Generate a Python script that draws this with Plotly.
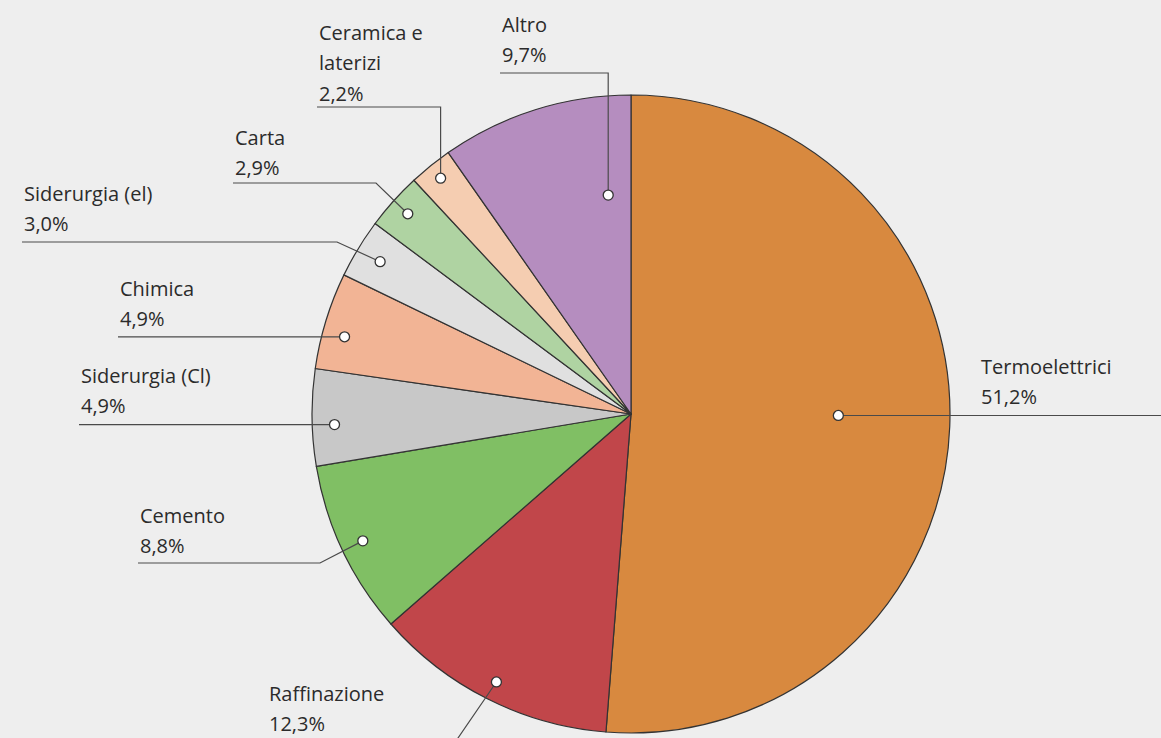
import math
import plotly.graph_objects as go

# Quote per settore (%), in senso orario dalle ore 12
settori = ["Termoelettrici", "Raffinazione", "Cemento", "Siderurgia (Cl)", "Chimica",
           "Siderurgia (el)", "Carta", "Ceramica e<br>laterizi", "Altro"]
quote = [51.2, 12.3, 8.8, 4.9, 4.9, 3.0, 2.9, 2.2, 9.7]
colori = ["#D8893F", "#C1464A", "#80BF64", "#C8C8C8", "#F2B495",
          "#E0E0E0", "#AFD3A2", "#F5CDB1", "#B58DBF"]

W, H = 1161, 738
CX, CY, R = 631, 414, 319
BG = "#EEEEEE"
INK = "#333333"

# Posizione del punto nella fetta: (frazione angolare nella fetta, frazione del raggio)
ancora = [(0.49, 0.65), (0.5, 0.94), (0.5, 0.93), (0.42, 0.93), (0.39, 0.93),
          (0.5, 0.92), (0.5, 0.94), (0.5, 0.95), (0.83, 0.69)]
# Etichette: x del testo, y della prima riga, gomito della linea, x finale della linea
etichette = [
    dict(tx=979, ty=366, gomito=None, fine=1161),
    dict(tx=267, ty=693, gomito=(445, 757), fine=267),
    dict(tx=138, ty=515, gomito=(320, 563), fine=138),
    dict(tx=79, ty=375, gomito=None, fine=79),
    dict(tx=118, ty=288, gomito=None, fine=118),
    dict(tx=22, ty=193, gomito=(337, 242), fine=22),
    dict(tx=233, ty=137, gomito=(376, 183), fine=233),
    dict(tx=317, ty=32, gomito=("v", 107), fine=317),
    dict(tx=500, ty=24, gomito=("v", 73), fine=500),
]
INTERLINEA = 30.5

fig = go.Figure()

fig.add_trace(go.Pie(
    labels=settori, values=quote, sort=False, direction="clockwise", rotation=0,
    marker=dict(colors=colori, line=dict(color=INK, width=1.2)),
    textinfo="none", hoverinfo="label+percent", showlegend=False,
    domain=dict(x=[(CX - R) / W, (CX + R) / W],
                y=[(H - CY - R) / H, (H - CY + R) / H]),
))

# Asse invisibile in pixel per linee guida, punti ed etichette
fig.add_trace(go.Scatter(x=[], y=[], showlegend=False))

totale = sum(quote)
cum = 0.0
shapes, annots = [], []
for nome, q, (fa, fr), et in zip(settori, quote, ancora, etichette):
    theta = 2 * math.pi * (cum + fa * q) / totale
    cum += q
    px = CX + fr * R * math.sin(theta)
    py = CY - fr * R * math.cos(theta)

    punti = [(px, py)]
    g = et["gomito"]
    if g is None:
        ly = py
    elif g[0] == "v":
        punti.append((px, g[1]))
        ly = g[1]
    else:
        punti.append(g)
        ly = g[1]
    punti.append((et["fine"], ly))
    path = "M " + " L ".join(f"{x:.1f},{y:.1f}" for x, y in punti)
    shapes.append(dict(type="path", path=path, xref="x", yref="y", layer="above",
                       line=dict(color="#4a4a4a", width=1.2)))
    shapes.append(dict(type="circle", xref="x", yref="y", layer="above",
                       x0=px - 5, x1=px + 5, y0=py - 5, y1=py + 5,
                       fillcolor="white", line=dict(color=INK, width=1.3)))

    righe = nome.split("<br>") + [f"{q:.1f}%".replace(".", ",")]
    for i, riga in enumerate(righe):
        annots.append(dict(x=et["tx"], y=et["ty"] + i * INTERLINEA, xref="x", yref="y",
                           text=riga, showarrow=False, xanchor="left", yanchor="middle",
                           font=dict(family="Open Sans, sans-serif", size=20,
                                     weight=500, color="#2b2b2b")))

fig.update_layout(
    width=W, height=H, margin=dict(l=0, r=0, t=0, b=0),
    paper_bgcolor=BG, plot_bgcolor=BG,
    xaxis=dict(range=[0, W], visible=False, fixedrange=True),
    yaxis=dict(range=[H, 0], visible=False, fixedrange=True),
    shapes=shapes, annotations=annots,
)

fig.write_html("out.html")
